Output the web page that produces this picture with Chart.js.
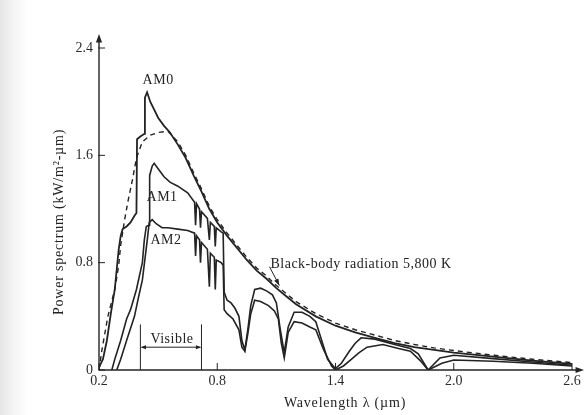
<!DOCTYPE html>
<html>
<head>
<meta charset="utf-8">
<script src="https://cdn.jsdelivr.net/npm/chart.js@4.4.1/dist/chart.umd.min.js"></script>
<style>
  html, body { margin: 0; padding: 0; }
  body { background: linear-gradient(to right, #e6e6e6 0px, #f5f5f5 14px, #ffffff 28px); }
  canvas { display: block; }
</style>
</head>
<body>
<canvas id="spectrumChart" width="586" height="415"></canvas>
<script>
// Wavelength (um) and power (kW/m2-um)

const am0X = [0.2, 0.22, 0.24, 0.26, 0.28, 0.3, 0.31, 0.32, 0.34, 0.36, 0.38, 0.39, 0.393, 0.41, 0.43, 0.433,
  0.444, 0.46, 0.48, 0.5, 0.53, 0.56, 0.6, 0.64, 0.68, 0.72, 0.76, 0.8, 0.85, 0.9, 0.95, 1.0, 1.05, 1.1,
  1.15, 1.2, 1.3, 1.4, 1.5, 1.6, 1.7, 1.8, 1.9, 2.0, 2.2, 2.4, 2.6];
const am0Y = [0.02, 0.08, 0.22, 0.42, 0.6, 0.9, 1.0, 1.05, 1.07, 1.1, 1.15, 1.17, 1.72, 1.74, 1.76, 2.03,
  2.07, 2.0, 1.94, 1.88, 1.82, 1.77, 1.68, 1.58, 1.45, 1.33, 1.2, 1.1, 1.0, 0.91, 0.82, 0.74, 0.68, 0.61,
  0.55, 0.49, 0.4, 0.33, 0.28, 0.24, 0.2, 0.17, 0.15, 0.13, 0.1, 0.07, 0.045];

const bbX = [0.2, 0.215, 0.245, 0.28, 0.3, 0.31, 0.33, 0.35, 0.37, 0.39, 0.42, 0.46, 0.5, 0.55, 0.6, 0.64,
  0.68, 0.72, 0.76, 0.8, 0.85, 0.9, 0.95, 1.0, 1.05, 1.1, 1.15, 1.2, 1.3, 1.4, 1.5, 1.6, 1.7, 1.8, 1.9,
  2.0, 2.2, 2.4, 2.6];
const bbY = [0.0, 0.15, 0.4, 0.6, 0.78, 0.93, 1.12, 1.28, 1.42, 1.58, 1.7, 1.75, 1.77, 1.78, 1.7, 1.6,
  1.47, 1.35, 1.22, 1.12, 1.02, 0.93, 0.84, 0.76, 0.7, 0.63, 0.57, 0.51, 0.42, 0.35, 0.3, 0.26, 0.22, 0.19,
  0.165, 0.145, 0.11, 0.08, 0.055];

const am1X = [0.265, 0.28, 0.31, 0.34, 0.36, 0.39, 0.42, 0.43, 0.44, 0.455, 0.457, 0.47, 0.48, 0.5, 0.53,
  0.56, 0.6, 0.65, 0.685, 0.69, 0.695, 0.71, 0.715, 0.72, 0.75, 0.76, 0.765, 0.785, 0.79, 0.795, 0.82, 0.83,
  0.835, 0.85, 0.87, 0.89, 0.91, 0.925, 0.94, 0.955, 0.97, 0.99, 1.02, 1.05, 1.08, 1.1, 1.12, 1.14, 1.16,
  1.19, 1.23, 1.27, 1.3, 1.33, 1.36, 1.4, 1.43, 1.47, 1.5, 1.53, 1.6, 1.7, 1.78, 1.82, 1.87, 1.93, 2.0,
  2.2, 2.4, 2.6];
const am1Y = [0.0, 0.08, 0.22, 0.38, 0.45, 0.6, 0.8, 0.97, 1.07, 1.08, 1.45, 1.52, 1.54, 1.5, 1.44,
  1.4, 1.37, 1.32, 1.25, 1.08, 1.24, 1.2, 1.06, 1.18, 1.13, 0.97, 1.1, 1.07, 0.92, 1.06, 1.03, 1.02,
  0.58, 0.52, 0.5, 0.46, 0.4, 0.22, 0.15, 0.3, 0.48, 0.6, 0.61, 0.59, 0.56, 0.5, 0.3, 0.13, 0.32,
  0.43, 0.43, 0.4, 0.36, 0.22, 0.08, 0.01, 0.05, 0.14, 0.2, 0.24, 0.23, 0.19, 0.16, 0.12, 0.0, 0.09, 0.11,
  0.085, 0.06, 0.035];

const am2X = [0.29, 0.31, 0.34, 0.38, 0.4, 0.42, 0.445, 0.455, 0.47, 0.49, 0.52, 0.55, 0.6, 0.65, 0.685,
  0.69, 0.695, 0.71, 0.715, 0.72, 0.75, 0.76, 0.765, 0.785, 0.79, 0.795, 0.82, 0.83, 0.835, 0.85, 0.88,
  0.91, 0.925, 0.94, 0.955, 0.97, 0.99, 1.02, 1.06, 1.09, 1.11, 1.125, 1.14, 1.16, 1.19, 1.23, 1.27, 1.3,
  1.34, 1.38, 1.4, 1.44, 1.48, 1.52, 1.56, 1.64, 1.72, 1.78, 1.83, 1.87, 1.94, 2.0, 2.2, 2.4, 2.6];
const am2Y = [0.0, 0.08, 0.22, 0.4, 0.54, 0.67, 0.97, 1.1, 1.12, 1.09, 1.06, 1.06, 1.05, 1.04, 1.02,
  0.85, 1.0, 0.97, 0.8, 0.95, 0.9, 0.62, 0.87, 0.84, 0.6, 0.82, 0.8, 0.78, 0.45, 0.42, 0.38,
  0.3, 0.17, 0.14, 0.27, 0.42, 0.52, 0.51, 0.48, 0.44, 0.38, 0.2, 0.09, 0.28, 0.36, 0.35, 0.32, 0.3,
  0.15, 0.03, 0.0, 0.03, 0.08, 0.13, 0.17, 0.19, 0.16, 0.14, 0.07, 0.0, 0.05, 0.075, 0.065, 0.05, 0.03];

const xTicks = [0.2, 0.8, 1.4, 2.0, 2.6];
const xTickLabels = ['0.2', '0.8', '1.4', '2.0', '2.6'];
const yTicks = [0, 0.8, 1.6, 2.4];
const yTickLabels = ['0', '0.8', '1.6', '2.4'];

const visibleRange = [0.41, 0.72];

const ink = '#232323';
const serif = "'Liberation Serif', 'DejaVu Serif', serif";

function toPoints(xs, ys) {
  return xs.map((x, i) => ({ x: x, y: ys[i] }));
}

function line(ctx, x1, y1, x2, y2) {
  ctx.beginPath();
  ctx.moveTo(x1, y1);
  ctx.lineTo(x2, y2);
  ctx.stroke();
}

function arrowHead(ctx, tipX, tipY, fromX, fromY, size) {
  const a = Math.atan2(tipY - fromY, tipX - fromX);
  ctx.beginPath();
  ctx.moveTo(tipX, tipY);
  ctx.lineTo(tipX - size * Math.cos(a - 0.35), tipY - size * Math.sin(a - 0.35));
  ctx.lineTo(tipX - size * Math.cos(a + 0.35), tipY - size * Math.sin(a + 0.35));
  ctx.closePath();
  ctx.fill();
}

// axes with arrows, inner ticks, the "Visible" bracket and all the labels
const decorations = {
  id: 'decorations',
  afterDraw(chart) {
    const ctx = chart.ctx;
    const xs = chart.scales.x;
    const ys = chart.scales.y;
    const area = chart.chartArea;
    const px = v => xs.getPixelForValue(v);
    const py = v => ys.getPixelForValue(v);

    ctx.save();
    ctx.strokeStyle = ink;
    ctx.fillStyle = ink;
    ctx.lineWidth = 1.4;

    // axes
    line(ctx, area.left, area.bottom, area.left, area.top - 10);
    arrowHead(ctx, area.left, area.top - 14, area.left, area.top, 9);
    line(ctx, area.left, area.bottom, area.right + 8, area.bottom);
    arrowHead(ctx, area.right + 12, area.bottom, area.right, area.bottom, 9);

    // tick marks pointing into the plot
    ctx.lineWidth = 1;
    yTicks.forEach(v => line(ctx, area.left - 1, py(v), area.left + 6, py(v)));
    xTicks.forEach(v => line(ctx, px(v), area.bottom, px(v), area.bottom - 7));

    // Visible band
    const vx1 = px(visibleRange[0]);
    const vx2 = px(visibleRange[1]);
    const vTop = py(0.34);
    const vArrow = py(0.17);
    line(ctx, vx1, area.bottom, vx1, vTop);
    line(ctx, vx2, area.bottom, vx2, vTop);
    line(ctx, vx1 + 2, vArrow, vx2 - 2, vArrow);
    arrowHead(ctx, vx1, vArrow, vx2, vArrow, 6);
    arrowHead(ctx, vx2, vArrow, vx1, vArrow, 6);

    ctx.font = '14px ' + serif;
    ctx.letterSpacing = '0.5px';
    ctx.textAlign = 'center';
    ctx.textBaseline = 'middle';
    ctx.fillText('Visible', (vx1 + vx2) / 2 + 1, py(0.23));

    // curve labels
    ctx.fillText('AM0', px(0.5), py(2.16));
    ctx.fillText('AM1', px(0.52), py(1.29));
    ctx.fillText('AM2', px(0.54), py(0.97));

    ctx.textAlign = 'left';
    ctx.fillText('Black-body radiation 5,800 K', px(1.07), py(0.79));
    ctx.lineWidth = 1;
    const ax0 = px(1.065), ay0 = py(0.77);
    const ax1 = px(1.115), ay1 = py(0.63);
    line(ctx, ax0, ay0, ax1, ay1);
    arrowHead(ctx, ax1, ay1, ax0, ay0, 7);

    // axis titles
    ctx.font = '14px ' + serif;
    ctx.letterSpacing = '0.8px';
    ctx.textAlign = 'center';
    ctx.fillText('Wavelength \u03bb (\u00b5m)', 345, 403);

    ctx.translate(59, 222);
    ctx.rotate(-Math.PI / 2);
    ctx.fillText('Power spectrum (kW/m\u00b2-\u00b5m)', 0, 0);

    ctx.restore();
  }
};

const ctx = document.getElementById('spectrumChart').getContext('2d');

new Chart(ctx, {
  type: 'line',
  data: {
    datasets: [
      {
        label: 'AM0',
        data: toPoints(am0X, am0Y),
        borderColor: ink,
        borderWidth: 1.8
      },
      {
        label: 'Black-body radiation 5,800 K',
        data: toPoints(bbX, bbY),
        borderColor: ink,
        borderWidth: 1.4,
        borderDash: [5, 4]
      },
      {
        label: 'AM1',
        data: toPoints(am1X, am1Y),
        borderColor: ink,
        borderWidth: 1.6
      },
      {
        label: 'AM2',
        data: toPoints(am2X, am2Y),
        borderColor: ink,
        borderWidth: 1.6
      }
    ]
  },
  options: {
    responsive: false,
    animation: false,
    events: [],
    elements: {
      point: { radius: 0 },
      line: { tension: 0, fill: false }
    },
    layout: {
      padding: { top: 48, right: 14, left: 0, bottom: 0 }
    },
    plugins: {
      legend: { display: false },
      tooltip: { enabled: false }
    },
    scales: {
      x: {
        type: 'linear',
        min: 0.2,
        max: 2.6,
        grid: { display: false, drawTicks: false },
        border: { display: false },
        afterBuildTicks: scale => { scale.ticks = xTicks.map(v => ({ value: v })); },
        afterFit: scale => { scale.height = 45; },
        ticks: {
          autoSkip: false,
          maxRotation: 0,
          padding: 3,
          color: '#2c2c2c',
          font: { family: serif, size: 14 },
          callback: (value, index) => xTickLabels[index]
        }
      },
      y: {
        type: 'linear',
        min: 0,
        max: 2.4,
        grid: { display: false, drawTicks: false },
        border: { display: false },
        afterBuildTicks: scale => { scale.ticks = yTicks.map(v => ({ value: v })); },
        afterFit: scale => { scale.width = 99; },
        ticks: {
          autoSkip: false,
          padding: 6,
          color: '#2c2c2c',
          font: { family: serif, size: 14 },
          callback: (value, index) => yTickLabels[index]
        }
      }
    }
  },
  plugins: [decorations]
});
</script>
</body>
</html>
